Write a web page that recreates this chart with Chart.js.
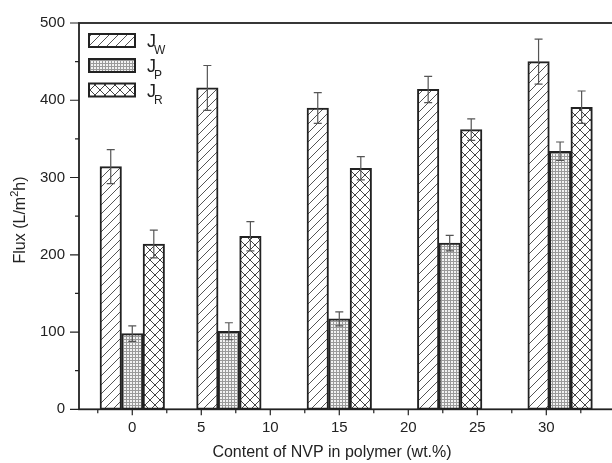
<!DOCTYPE html>
<html>
<head>
<meta charset="utf-8">
<script src="https://cdn.jsdelivr.net/npm/chart.js@4/dist/chart.umd.min.js"></script>
<style>
  html, body { margin: 0; padding: 0; background: #fff; overflow: hidden; }
  #wrap { width: 640px; height: 463px; }
</style>
</head>
<body>
<div id="wrap"><canvas id="fluxChart"></canvas></div>
<script>
// NVP content groups, as placed along the x axis of the original figure
const groupPositions = [0, 7, 15, 23, 31];

// flux values (L/m2h) and their error bars
const fluxW = [314, 416, 390, 414, 450];
const errW = [22, 29, 20, 17, 29];
const fluxP = [98, 101, 117, 215, 334];
const errP = [10, 11, 9, 10, 12];
const fluxR = [214, 224, 312, 362, 391];
const errR = [18, 19, 15, 14, 21];

const seriesNames = ['W', 'P', 'R'];
const xTickValues = [0, 5, 10, 15, 20, 25, 30];
const yTickValues = [0, 100, 200, 300, 400, 500];

const barOffset = 1.56;   // bars in a group sit side by side
const FONT = '"Liberation Sans", Arial, sans-serif';

function makePattern(kind) {
    const c = document.createElement('canvas');
    const ctx = c.getContext('2d');
    let s;
    if (kind === 'diag') {
        s = 9;
        c.width = s; c.height = s;
        ctx.fillStyle = '#fff';
        ctx.fillRect(0, 0, s, s);
        ctx.strokeStyle = '#555';
        ctx.lineWidth = 1;
        ctx.beginPath();
        ctx.moveTo(0, s); ctx.lineTo(s, 0);
        ctx.moveTo(-1, 1); ctx.lineTo(1, -1);
        ctx.moveTo(s - 1, s + 1); ctx.lineTo(s + 1, s - 1);
        ctx.stroke();
    } else if (kind === 'grid') {
        s = 3;
        c.width = s; c.height = s;
        ctx.fillStyle = '#f2f2f2';
        ctx.fillRect(0, 0, s, s);
        ctx.fillStyle = '#9a9a9a';
        ctx.fillRect(0, 0, s, 1);
        ctx.fillRect(0, 0, 1, s);
    } else {
        s = 10;
        c.width = s; c.height = s;
        ctx.fillStyle = '#fff';
        ctx.fillRect(0, 0, s, s);
        ctx.strokeStyle = '#444';
        ctx.lineWidth = 1;
        ctx.beginPath();
        ctx.moveTo(0, 0); ctx.lineTo(s, s);
        ctx.moveTo(0, s); ctx.lineTo(s, 0);
        ctx.stroke();
    }
    return document.createElement('canvas').getContext('2d').createPattern(c, 'repeat');
}

const patterns = [makePattern('diag'), makePattern('grid'), makePattern('cross')];

function points(values, shift) {
    return values.map((v, i) => ({ x: groupPositions[i] + shift, y: v }));
}

const allErrors = [errW, errP, errR];

const errorBars = {
    id: 'errorBars',
    afterDatasetsDraw(chart) {
        const ctx = chart.ctx;
        const yScale = chart.scales.y;
        ctx.save();
        ctx.strokeStyle = '#555';
        ctx.lineWidth = 1.2;
        chart.data.datasets.forEach((ds, di) => {
            const meta = chart.getDatasetMeta(di);
            meta.data.forEach((bar, i) => {
                const v = ds.data[i].y;
                const e = allErrors[di][i];
                const top = yScale.getPixelForValue(v + e);
                const bot = yScale.getPixelForValue(v - e);
                ctx.beginPath();
                ctx.moveTo(bar.x, top); ctx.lineTo(bar.x, bot);
                ctx.moveTo(bar.x - 4, top); ctx.lineTo(bar.x + 4, top);
                ctx.moveTo(bar.x - 4, bot); ctx.lineTo(bar.x + 4, bot);
                ctx.stroke();
            });
        });
        ctx.restore();
    }
};

const frameAndText = {
    id: 'frameAndText',
    afterDraw(chart) {
        const ctx = chart.ctx;
        const a = chart.chartArea;
        const xs = chart.scales.x, ys = chart.scales.y;
        ctx.save();
        ctx.strokeStyle = '#222';
        ctx.lineWidth = 1.8;
        ctx.strokeRect(a.left, a.top, a.right - a.left, a.bottom - a.top);

        // tick marks
        ctx.lineWidth = 1.2;
        ctx.beginPath();
        for (let v = 0; v <= 500; v += 50) {
            const y = ys.getPixelForValue(v);
            ctx.moveTo(a.left, y);
            ctx.lineTo(a.left - (v % 100 === 0 ? 9 : 4), y);
        }
        for (let v = -2.5; v <= xs.max; v += 2.5) {
            const x = xs.getPixelForValue(v);
            ctx.moveTo(x, a.bottom);
            ctx.lineTo(x, a.bottom + (v % 5 === 0 ? 6 : 4));
        }
        ctx.stroke();

        // legend
        const lx = 89, lw = 46, lh = 13;
        const rows = [34, 59, 83.5];
        chart.data.datasets.forEach((ds, i) => {
            ctx.fillStyle = patterns[i];
            ctx.fillRect(lx, rows[i], lw, lh);
            ctx.lineWidth = 2;
            ctx.strokeStyle = '#222';
            ctx.strokeRect(lx, rows[i], lw, lh);
            ctx.fillStyle = '#222';
            ctx.textBaseline = 'alphabetic';
            ctx.textAlign = 'left';
            ctx.font = '18px ' + FONT;
            ctx.fillText('J', 147, rows[i] + 13);
            ctx.font = '12px ' + FONT;
            ctx.fillText(seriesNames[i], 154, rows[i] + 20);
        });

        // axis titles
        ctx.fillStyle = '#222';
        ctx.font = '16px ' + FONT;
        ctx.textAlign = 'center';
        ctx.textBaseline = 'middle';
        ctx.fillText('Content of NVP in polymer (wt.%)', 332, 453);

        ctx.translate(19, 220);
        ctx.rotate(-Math.PI / 2);
        ctx.textAlign = 'left';
        ctx.textBaseline = 'alphabetic';
        const p1 = 'Flux (L/m', p3 = 'h)';
        ctx.font = '16px ' + FONT;
        const w1 = ctx.measureText(p1).width;
        ctx.font = '11px ' + FONT;
        const w2 = ctx.measureText('2').width;
        ctx.font = '16px ' + FONT;
        const w3 = ctx.measureText(p3).width;
        let x0 = -(w1 + w2 + w3) / 2;
        ctx.fillText(p1, x0, 6);
        ctx.font = '11px ' + FONT;
        ctx.fillText('2', x0 + w1, -1);
        ctx.font = '16px ' + FONT;
        ctx.fillText(p3, x0 + w1 + w2, 6);
        ctx.restore();
    }
};

new Chart(document.getElementById('fluxChart'), {
    type: 'bar',
    data: {
        datasets: [
            { label: 'JW', data: points(fluxW, -barOffset), backgroundColor: patterns[0] },
            { label: 'JP', data: points(fluxP, 0), backgroundColor: patterns[1] },
            { label: 'JR', data: points(fluxR, barOffset), backgroundColor: patterns[2] }
        ]
    },
    options: {
        responsive: true,
        maintainAspectRatio: false,
        animation: false,
        grouped: false,
        barThickness: 21.5,
        borderColor: '#222',
        borderWidth: 2,
        borderSkipped: false,
        layout: { padding: { left: 0, right: 24.7, top: 20.7, bottom: 0 } },
        plugins: {
            legend: { display: false },
            tooltip: { enabled: false }
        },
        scales: {
            x: {
                type: 'linear',
                min: -3.86,
                max: 35,
                offset: false,
                grid: { display: false, drawTicks: false, offset: false },
                border: { display: false },
                afterBuildTicks: scale => { scale.ticks = xTickValues.map(v => ({ value: v })); },
                afterFit: scale => { scale.height = 53.7; },
                ticks: {
                    padding: 10,
                    maxRotation: 0,
                    color: '#222',
                    font: { family: FONT, size: 15 }
                }
            },
            y: {
                min: 0,
                max: 500,
                grid: { display: false, drawTicks: false },
                border: { display: false },
                afterBuildTicks: scale => { scale.ticks = yTickValues.map(v => ({ value: v })); },
                afterFit: scale => { scale.width = 79; },
                ticks: {
                    padding: 14,
                    color: '#222',
                    font: { family: FONT, size: 15 }
                }
            }
        }
    },
    plugins: [errorBars, frameAndText]
});
</script>
</body>
</html>
